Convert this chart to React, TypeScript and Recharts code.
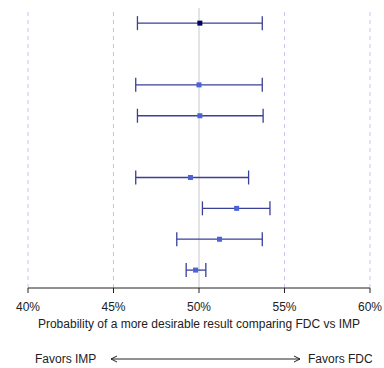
import React from "react";
import {
  ScatterChart,
  Scatter,
  XAxis,
  YAxis,
  ErrorBar,
  ReferenceLine,
  Cell,
} from "recharts";

// estimates, one row per slot (slots 1 and 4 empty)
const rows = [0, 2, 3, 5, 6, 7, 8];
const estimates = [50.05, 50.0, 50.05, 49.5, 52.2, 51.2, 49.8];
const lowers = [46.4, 46.3, 46.4, 46.3, 50.2, 48.7, 49.25];
const uppers = [53.7, 53.7, 53.75, 52.9, 54.15, 53.7, 50.4];
const pointColors = ["#00005e", "#4a63d8", "#4a63d8", "#4a63d8", "#4a63d8", "#4a63d8", "#4a63d8"];

const xTicks = [40, 45, 50, 55, 60];
const dashedAt = [40, 45, 55, 60];

const data = rows.map((r, i) => ({
  y: r,
  x: estimates[i],
  err: [estimates[i] - lowers[i], uppers[i] - estimates[i]],
}));

const FONT = "'Liberation Sans', Arial, sans-serif";

const SquareDot = (props: any) => {
  const { cx, cy, fill } = props;
  return <rect x={cx - 2.5} y={cy - 2.5} width={5} height={5} fill={fill} />;
};

export default function App() {
  return (
    <div style={{ position: "absolute", left: 0, top: 0, width: 384, height: 368, background: "#fff" }}>
      <ScatterChart
        width={384}
        height={368}
        margin={{ top: 8, right: 14, bottom: 50, left: 28 }}
      >
        <XAxis
          type="number"
          dataKey="x"
          domain={[40, 60]}
          ticks={xTicks}
          allowDataOverflow
          tickFormatter={(v) => `${v}%`}
          tick={{ fontSize: 12, fill: "#222", fontFamily: FONT }}
          tickSize={5}
          tickMargin={9}
          height={30}
          axisLine={{ stroke: "#222" }}
          tickLine={{ stroke: "#222" }}
          label={{
            value: "Probability of a more desirable result comparing FDC vs IMP",
            position: "insideBottom",
            offset: -10,
            fontSize: 12,
            fill: "#222",
            fontFamily: FONT,
          }}
        />
        <YAxis type="number" dataKey="y" domain={[-0.49, 8.58]} reversed hide width={0} />
        {dashedAt.map((v) => (
          <ReferenceLine key={v} x={v} stroke="#c6c6f0" strokeDasharray="4 4" />
        ))}
        <ReferenceLine x={50} stroke="#c8c8c8" />
        <Scatter data={data} shape={<SquareDot />} isAnimationActive={false}>
          {data.map((_, i) => (
            <Cell key={i} fill={pointColors[i]} />
          ))}
          <ErrorBar dataKey="err" direction="x" width={7} stroke="#3a3f98" strokeWidth={1.3} />
        </Scatter>
      </ScatterChart>
      <svg
        width={384}
        height={40}
        style={{ position: "absolute", left: 0, top: 339 }}
      >
        <text x={35} y={24} fontSize={12} fill="#222" fontFamily={FONT}>
          Favors IMP
        </text>
        <line x1={111} y1={20} x2={300} y2={20} stroke="#222" strokeWidth={1} />
        <polyline points="117,17 111,20 117,23" fill="none" stroke="#222" />
        <polyline points="294,17 300,20 294,23" fill="none" stroke="#222" />
        <text x={308} y={24} fontSize={12} fill="#222" fontFamily={FONT}>
          Favors FDC
        </text>
      </svg>
    </div>
  );
}
